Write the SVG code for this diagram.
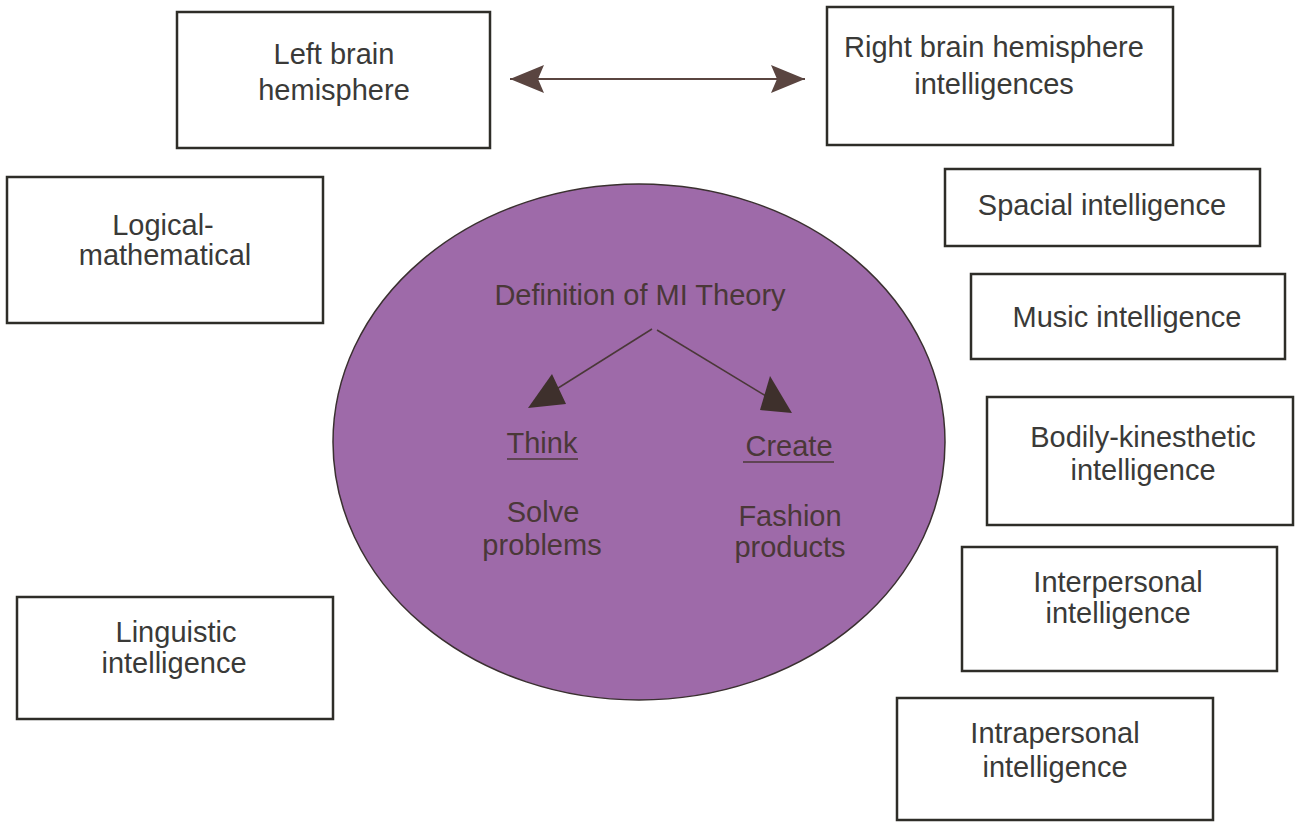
<svg xmlns="http://www.w3.org/2000/svg" width="1295" height="823" viewBox="0 0 1295 823">
<style>
.box{fill:#fff;stroke:#2e2d28;stroke-width:2.5}
.t{font-family:"Liberation Sans",Arial,sans-serif;font-size:29px;fill:#3a3a38;text-anchor:middle}
.in{font-family:"Liberation Sans",Arial,sans-serif;font-size:29px;fill:#4a3838;text-anchor:middle}
.ul{stroke:#4a3838;stroke-width:1.5}
.conn{stroke:#5a4540;stroke-width:2;fill:none}
.head{fill:#3e302c}
</style>
<defs>
<marker id="ah" viewBox="0 0 34 28" refX="34" refY="14" markerWidth="34" markerHeight="28" markerUnits="userSpaceOnUse" orient="auto-start-reverse">
<path d="M0,0 L34,14 L0,28 L6,14 Z" fill="#5a4540"/>
</marker>
</defs>
<rect width="1295" height="823" fill="#fff"/>
<g id="left-brain"><rect class="box" x="177" y="12" width="313" height="136"/><text class="t" x="334" y="64">Left brain</text><text class="t" x="334" y="100">hemisphere</text></g>
<g id="right-brain"><rect class="box" x="827" y="7" width="346" height="138"/><text class="t" x="994" y="57">Right brain hemisphere</text><text class="t" x="994" y="94">intelligences</text></g>
<g id="logical"><rect class="box" x="7" y="177" width="316" height="146"/><text class="t" x="163" y="235">Logical-</text><text class="t" x="165" y="265">mathematical</text></g>
<g id="spacial"><rect class="box" x="945" y="169" width="315" height="77"/><text class="t" x="1102" y="215">Spacial intelligence</text></g>
<g id="music"><rect class="box" x="971" y="274" width="314" height="85"/><text class="t" x="1127" y="327">Music intelligence</text></g>
<g id="bodily"><rect class="box" x="987" y="397" width="306" height="128"/><text class="t" x="1143" y="447">Bodily-kinesthetic</text><text class="t" x="1143" y="480">intelligence</text></g>
<g id="interpersonal"><rect class="box" x="962" y="547" width="315" height="124"/><text class="t" x="1118" y="592">Interpersonal</text><text class="t" x="1118" y="623">intelligence</text></g>
<g id="intrapersonal"><rect class="box" x="897" y="698" width="316" height="122"/><text class="t" x="1055" y="743">Intrapersonal</text><text class="t" x="1055" y="777">intelligence</text></g>
<g id="linguistic"><rect class="box" x="17" y="597" width="316" height="122"/><text class="t" x="176" y="642">Linguistic</text><text class="t" x="174" y="673">intelligence</text></g>
<g id="mi-theory">
<ellipse cx="639" cy="442" rx="306" ry="258" fill="#9e6aa9" stroke="#3a3030" stroke-width="1.5"/>
<text class="in" x="640" y="305">Definition of MI Theory</text>
<text class="in" x="542" y="453" font-size="28">Think</text>
<line class="ul" x1="507" y1="459" x2="578" y2="459"/>
<text class="in" x="789" y="456" font-size="28">Create</text>
<line class="ul" x1="743" y1="462" x2="834" y2="462"/>
<text class="in" x="543" y="522" font-size="28">Solve</text>
<text class="in" x="542" y="555" font-size="28">problems</text>
<text class="in" x="790" y="526" font-size="28">Fashion</text>
<text class="in" x="790" y="557" font-size="28">products</text>
</g>
<g id="connectors">
<line class="conn" x1="510" y1="79" x2="805" y2="79" marker-start="url(#ah)" marker-end="url(#ah)"/>
<line x1="652" y1="329" x2="555" y2="390" stroke="#4a3838" stroke-width="1.5"/>
<polygon class="head" points="552,374 528,408 566,404"/>
<line x1="657" y1="330" x2="766" y2="396" stroke="#4a3838" stroke-width="1.5"/>
<polygon class="head" points="770,376 760,410 792,413"/>
</g>
</svg>
